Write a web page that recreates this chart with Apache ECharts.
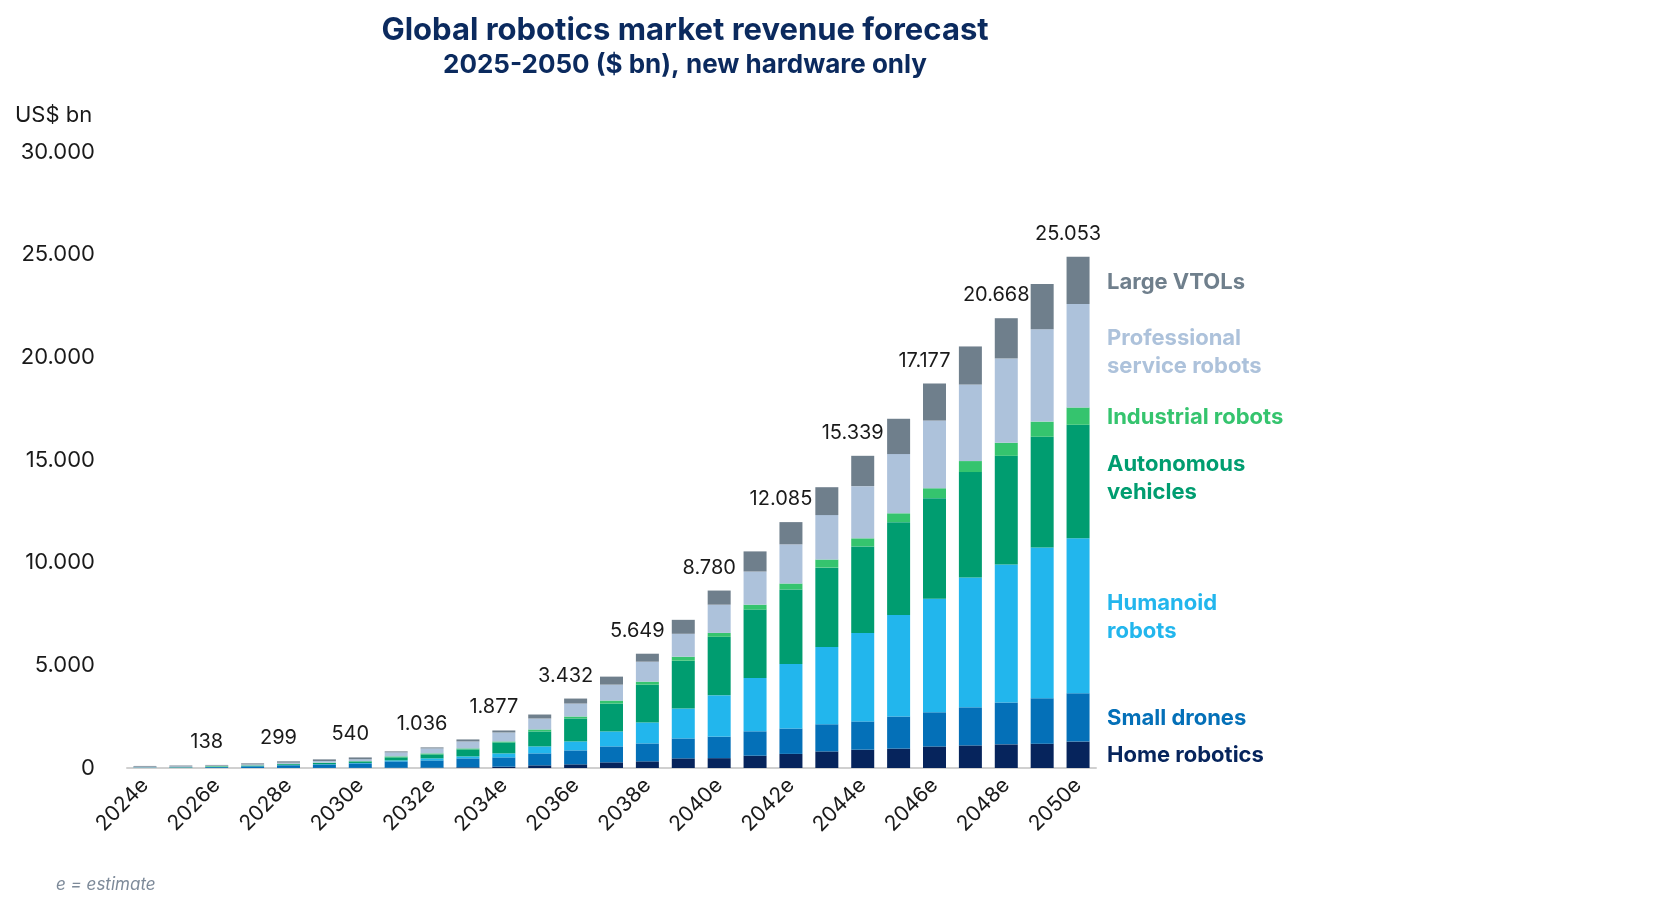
<!DOCTYPE html>
<html><head><meta charset="utf-8">
<script src="https://cdn.jsdelivr.net/npm/echarts@6/dist/echarts.min.js"></script>
<style>html,body{margin:0;padding:0;background:#fff}#c{width:1678px;height:922px}</style>
</head><body><div id="c"></div>
<script>
const years = ['2024e','2025e','2026e','2027e','2028e','2029e','2030e','2031e','2032e','2033e','2034e','2035e','2036e','2037e','2038e','2039e','2040e','2041e','2042e','2043e','2044e','2045e','2046e','2047e','2048e','2049e','2050e'];
const homeRobotics = [0,0,1,1,2,3,5,10,15,32,65,129,178,275,324,469,480,600,687,807,893,945,1048,1100,1151,1185,1288];
const smallDrones = [15,20,40,80,130,170,220,314,357,437,453,583,680,777,873,971,1049,1187,1237,1323,1375,1563,1666,1855,2044,2217,2354];
const humanoid = [1,2,3,5,8,12,20,48,97,97,194,340,436,728,1020,1456,2010,2594,3144,3763,4312,4948,5532,6322,6718,7335,7542];
const autonomous = [5,8,15,30,45,60,75,146,194,340,534,728,1117,1359,1844,2330,2852,3333,3625,3865,4209,4518,4897,5137,5291,5395,5532];
const industrial = [5,10,30,15,15,15,15,48,49,49,48,97,97,146,146,194,189,240,292,395,395,430,481,533,636,738,842];
const professional = [40,40,30,45,60,80,90,194,243,339,437,534,631,776,971,1117,1374,1615,1907,2165,2543,2886,3298,3728,4106,4501,5034];
const largeVTOLs = [34,40,30,50,65,80,90,49,48,97,97,194,243,389,388,679,688,980,1083,1357,1477,1718,1804,1855,1959,2200,2302];
const totalLabels = [null,null,'138',null,'299',null,'540',null,'1.036',null,'1.877',null,'3.432',null,'5.649',null,'8.780',null,'12.085',null,'15.339',null,'17.177',null,'20.668',null,'25.053'];
const yTicks = ['0','5.000','10.000','15.000','20.000','25.000','30.000'];

const F = 'Inter, "Noto Sans", sans-serif';
const navy = '#0b2a5e';
const defs = [
  ['Home robotics', homeRobotics, '#06245c'],
  ['Small drones', smallDrones, '#0470b8'],
  ['Humanoid robots', humanoid, '#22b6ed'],
  ['Autonomous vehicles', autonomous, '#009d70'],
  ['Industrial robots', industrial, '#35c46e'],
  ['Professional service robots', professional, '#adc2db'],
  ['Large VTOLs', largeVTOLs, '#6f7f8c']
];
const series = defs.map((d, i) => ({
  name: d[0], type: 'bar', stack: 'a', data: d[1], barWidth: 23,
  itemStyle: {color: d[2]},
  label: i === defs.length - 1 ? {
    show: true, position: 'top', offset: [-10, -8], color: '#1a1a1a', fontSize: 20, fontFamily: F,
    formatter: p => totalLabels[p.dataIndex] || ''
  } : {show: false}
}));
const legendItems = [
  [['Large VTOLs'], '#6f7f8c', 268],
  [['Professional', 'service robots'], '#adc2db', 324],
  [['Industrial robots'], '#35c46e', 403],
  [['Autonomous', 'vehicles'], '#009d70', 450],
  [['Humanoid', 'robots'], '#22b6ed', 589],
  [['Small drones'], '#0470b8', 704],
  [['Home robotics'], '#06245c', 741]
];
const graphic = [
  {type:'text', left:15, top:104, style:{text:'US$ bn', fontSize:22, fontFamily:F, fill:'#1a1a1a'}},
  {type:'text', left:56, top:876, style:{text:'e = estimate', fontSize:17, fontStyle:'italic', fontFamily:F, fill:'#7d8a99'}}
].concat(legendItems.map(l => ({type:'text', left:1107, top:l[2],
  style:{text:l[0].join('\n'), fill:l[1], fontSize:22, fontWeight:'bold', fontFamily:F, lineHeight:28}})));

const chart = echarts.init(document.getElementById('c'));
chart.setOption({
  animation: false,
  title: {text: 'Global robotics market revenue forecast', subtext: '2025-2050 ($ bn), new hardware only',
    left: 680, textAlign: 'center', top: 10, itemGap: 6,
    textStyle: {fontSize: 31, fontWeight: 'bold', color: navy, fontFamily: F},
    subtextStyle: {fontSize: 26, fontWeight: 'bold', color: navy, fontFamily: F}},
  grid: {left: 127, right: 582, top: 152, bottom: 154},
  xAxis: {type: 'category', data: years,
    axisLine: {lineStyle: {color: '#d0d0d0', width: 2}}, axisTick: {show: false},
    axisLabel: {interval: 1, rotate: 45, fontSize: 21, color: '#1a1a1a', fontFamily: F, margin: 14}},
  yAxis: {type: 'value', min: 0, max: 30000, interval: 5000, splitLine: {show: false},
    axisLabel: {fontSize: 22, color: '#1a1a1a', fontFamily: F, margin: 32,
      formatter: (v) => yTicks[Math.round(v / 5000)]}},
  series: series,
  graphic: graphic
});
</script></body></html>
